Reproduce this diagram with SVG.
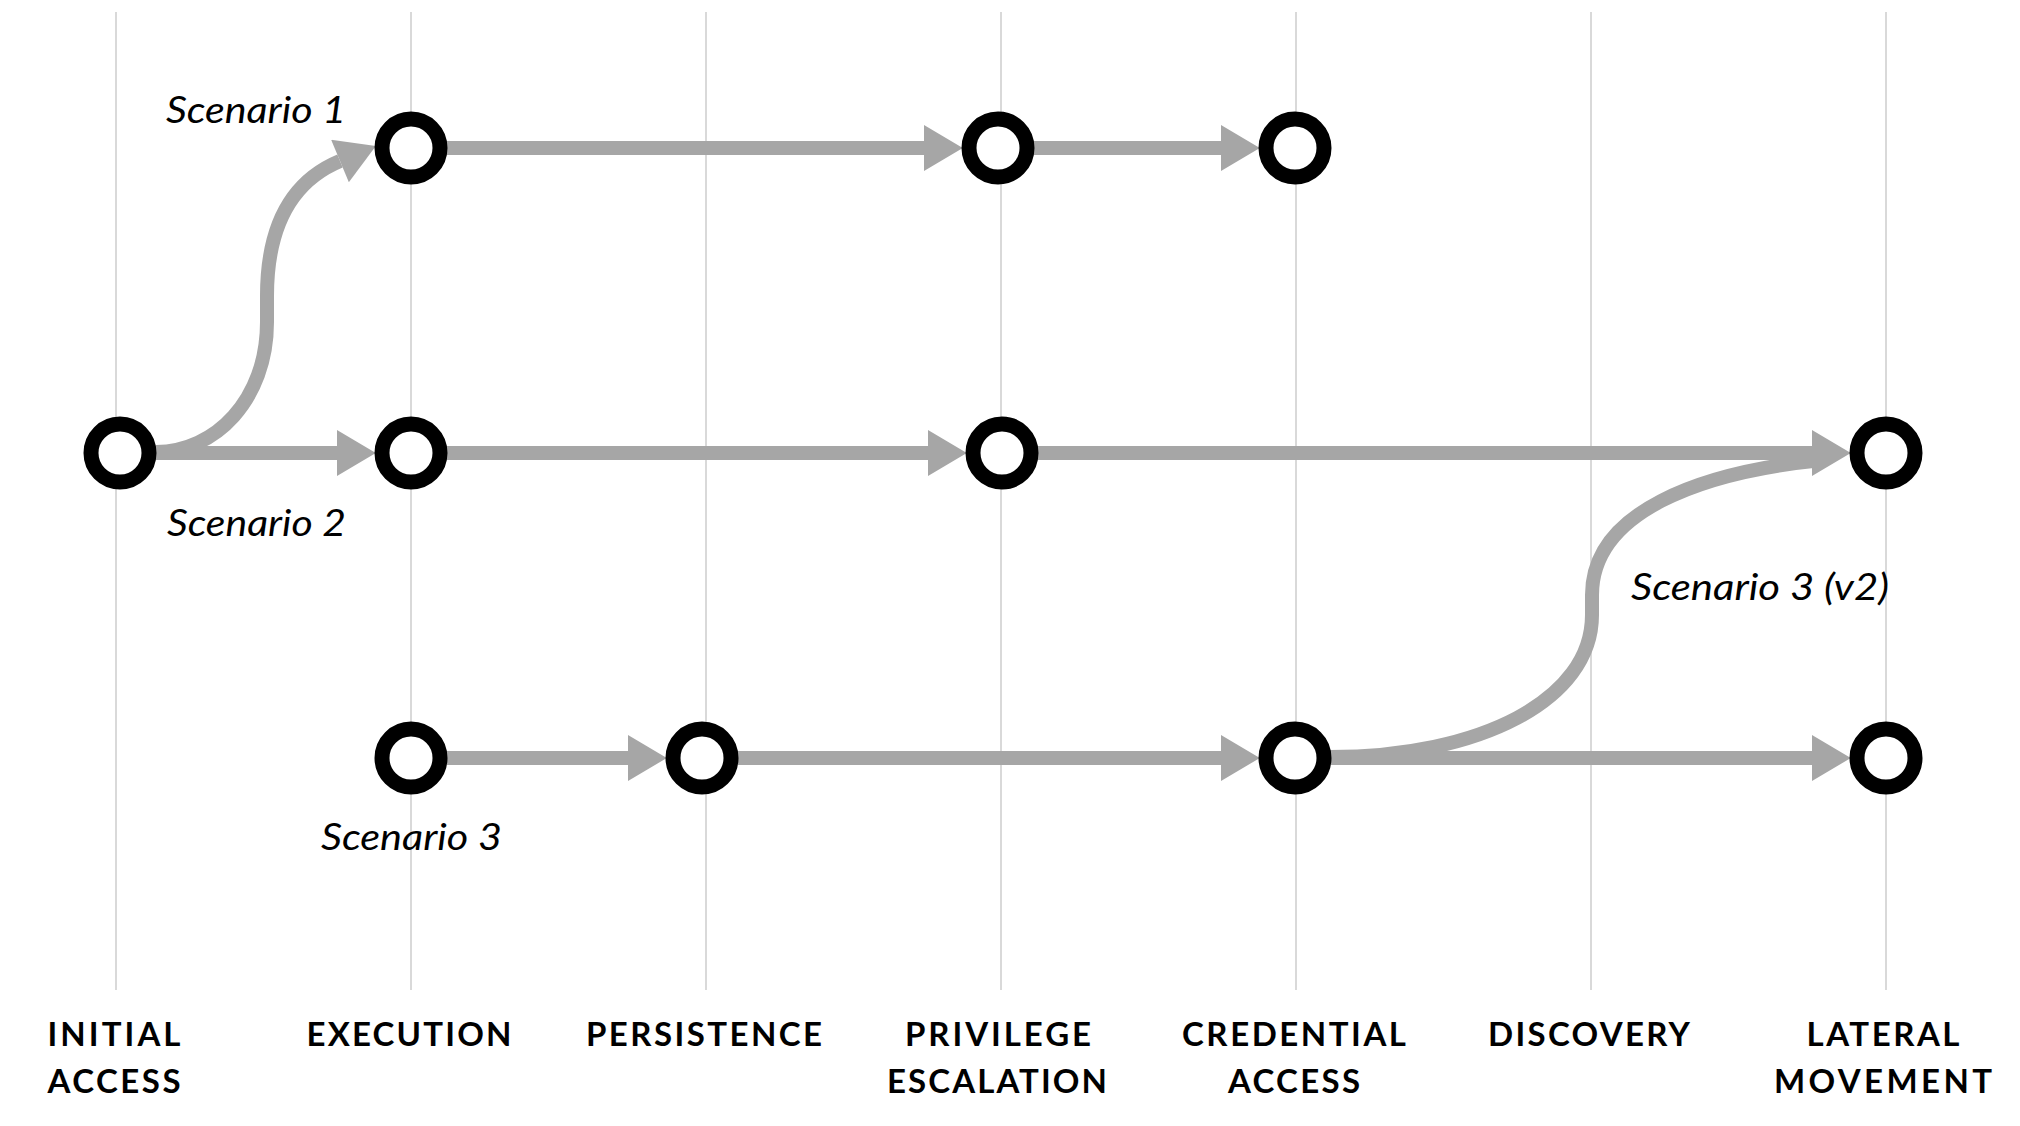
<svg xmlns="http://www.w3.org/2000/svg" width="2020" height="1126" viewBox="0 0 2020 1126">
  <style>
    .grid { stroke: #d9d9d9; stroke-width: 2; fill: none; }
    .conn { stroke: #a6a6a6; stroke-width: 14; fill: none; }
    .arrow { marker-end: url(#ah); }
    .node { fill: #ffffff; stroke: #000000; stroke-width: 15; }
    .lbl { font-family: Lato, "Open Sans", "Liberation Sans", sans-serif; font-style: italic; font-size: 37px; fill: #000000; }
    .tac { font-family: Lato, "Open Sans", "Liberation Sans", sans-serif; font-weight: bold; font-size: 33px; fill: #000000; text-anchor: middle; }
  </style>
  <defs>
    <marker id="ah" markerUnits="userSpaceOnUse" markerWidth="40" markerHeight="46" viewBox="0 0 38 45" refX="0" refY="22.5" orient="auto">
      <path d="M0,0 L38,22.5 L0,45 Z" fill="#a6a6a6"/>
    </marker>
  </defs>
  <rect width="2020" height="1126" fill="#ffffff"/>

  <g id="grid">
    <line class="grid" x1="116" y1="12" x2="116" y2="990"/>
    <line class="grid" x1="411" y1="12" x2="411" y2="990"/>
    <line class="grid" x1="706" y1="12" x2="706" y2="990"/>
    <line class="grid" x1="1001" y1="12" x2="1001" y2="990"/>
    <line class="grid" x1="1296" y1="12" x2="1296" y2="990"/>
    <line class="grid" x1="1591" y1="12" x2="1591" y2="990"/>
    <line class="grid" x1="1886" y1="12" x2="1886" y2="990"/>
  </g>

  <g id="connectors">
    <!-- Scenario 1 -->
    <path class="conn arrow" d="M156,452 C215,452 267,400 267,322 L267,296 C267,226 292,181 340,161"/>
    <path class="conn arrow" d="M447,148 L924,148"/>
    <path class="conn arrow" d="M1034,148 L1221,148"/>
    <!-- Scenario 2 -->
    <path class="conn arrow" d="M156,453 L337,453"/>
    <path class="conn arrow" d="M447,453 L928,453"/>
    <!-- Scenario 3 (v2) curve -->
    <path class="conn" d="M1330,757 C1480,757 1592,700 1592,615 L1592,595 C1592,512 1700,472 1822,460"/>
    <path class="conn arrow" d="M1038,453 L1812,453"/>
    <!-- Scenario 3 -->
    <path class="conn arrow" d="M447,758 L628,758"/>
    <path class="conn arrow" d="M738,758 L1221,758"/>
    <path class="conn arrow" d="M1331,758 L1812,758"/>
  </g>

  <g id="n-init"><circle class="node" cx="120" cy="453" r="29"/></g>
  <g id="n-s1-exec"><circle class="node" cx="411" cy="148" r="29"/></g>
  <g id="n-s1-priv"><circle class="node" cx="998" cy="148" r="29"/></g>
  <g id="n-s1-cred"><circle class="node" cx="1295" cy="148" r="29"/></g>
  <g id="n-s2-exec"><circle class="node" cx="411" cy="453" r="29"/></g>
  <g id="n-s2-priv"><circle class="node" cx="1002" cy="453" r="29"/></g>
  <g id="n-s2-lat"><circle class="node" cx="1886" cy="453" r="29"/></g>
  <g id="n-s3-exec"><circle class="node" cx="411" cy="758" r="29"/></g>
  <g id="n-s3-pers"><circle class="node" cx="702" cy="758" r="29"/></g>
  <g id="n-s3-cred"><circle class="node" cx="1295" cy="758" r="29"/></g>
  <g id="n-s3-lat"><circle class="node" cx="1886" cy="758" r="29"/></g>

  <g id="scenario-labels">
    <text class="lbl" x="166" y="123" textLength="180" lengthAdjust="spacingAndGlyphs">Scenario 1</text>
    <text class="lbl" x="167" y="536" textLength="179" lengthAdjust="spacingAndGlyphs">Scenario 2</text>
    <text class="lbl" x="321" y="850" textLength="181" lengthAdjust="spacingAndGlyphs">Scenario 3</text>
    <text class="lbl" x="1631" y="600" textLength="258" lengthAdjust="spacingAndGlyphs">Scenario 3 (v2)</text>
  </g>

  <g id="tactic-labels">
    <text class="tac" x="114" y="1046" textLength="133" lengthAdjust="spacing">INITIAL</text>
    <text class="tac" x="114" y="1093" textLength="133" lengthAdjust="spacing">ACCESS</text>
    <text class="tac" x="409" y="1046" textLength="205" lengthAdjust="spacing">EXECUTION</text>
    <text class="tac" x="704" y="1046" textLength="236" lengthAdjust="spacing">PERSISTENCE</text>
    <text class="tac" x="998" y="1046" textLength="186" lengthAdjust="spacing">PRIVILEGE</text>
    <text class="tac" x="997" y="1093" textLength="220" lengthAdjust="spacing">ESCALATION</text>
    <text class="tac" x="1294" y="1046" textLength="224" lengthAdjust="spacing">CREDENTIAL</text>
    <text class="tac" x="1294" y="1093" textLength="132" lengthAdjust="spacing">ACCESS</text>
    <text class="tac" x="1589" y="1046" textLength="202" lengthAdjust="spacing">DISCOVERY</text>
    <text class="tac" x="1883" y="1046" textLength="153" lengthAdjust="spacing">LATERAL</text>
    <text class="tac" x="1883" y="1093" textLength="218" lengthAdjust="spacing">MOVEMENT</text>
  </g>
</svg>
